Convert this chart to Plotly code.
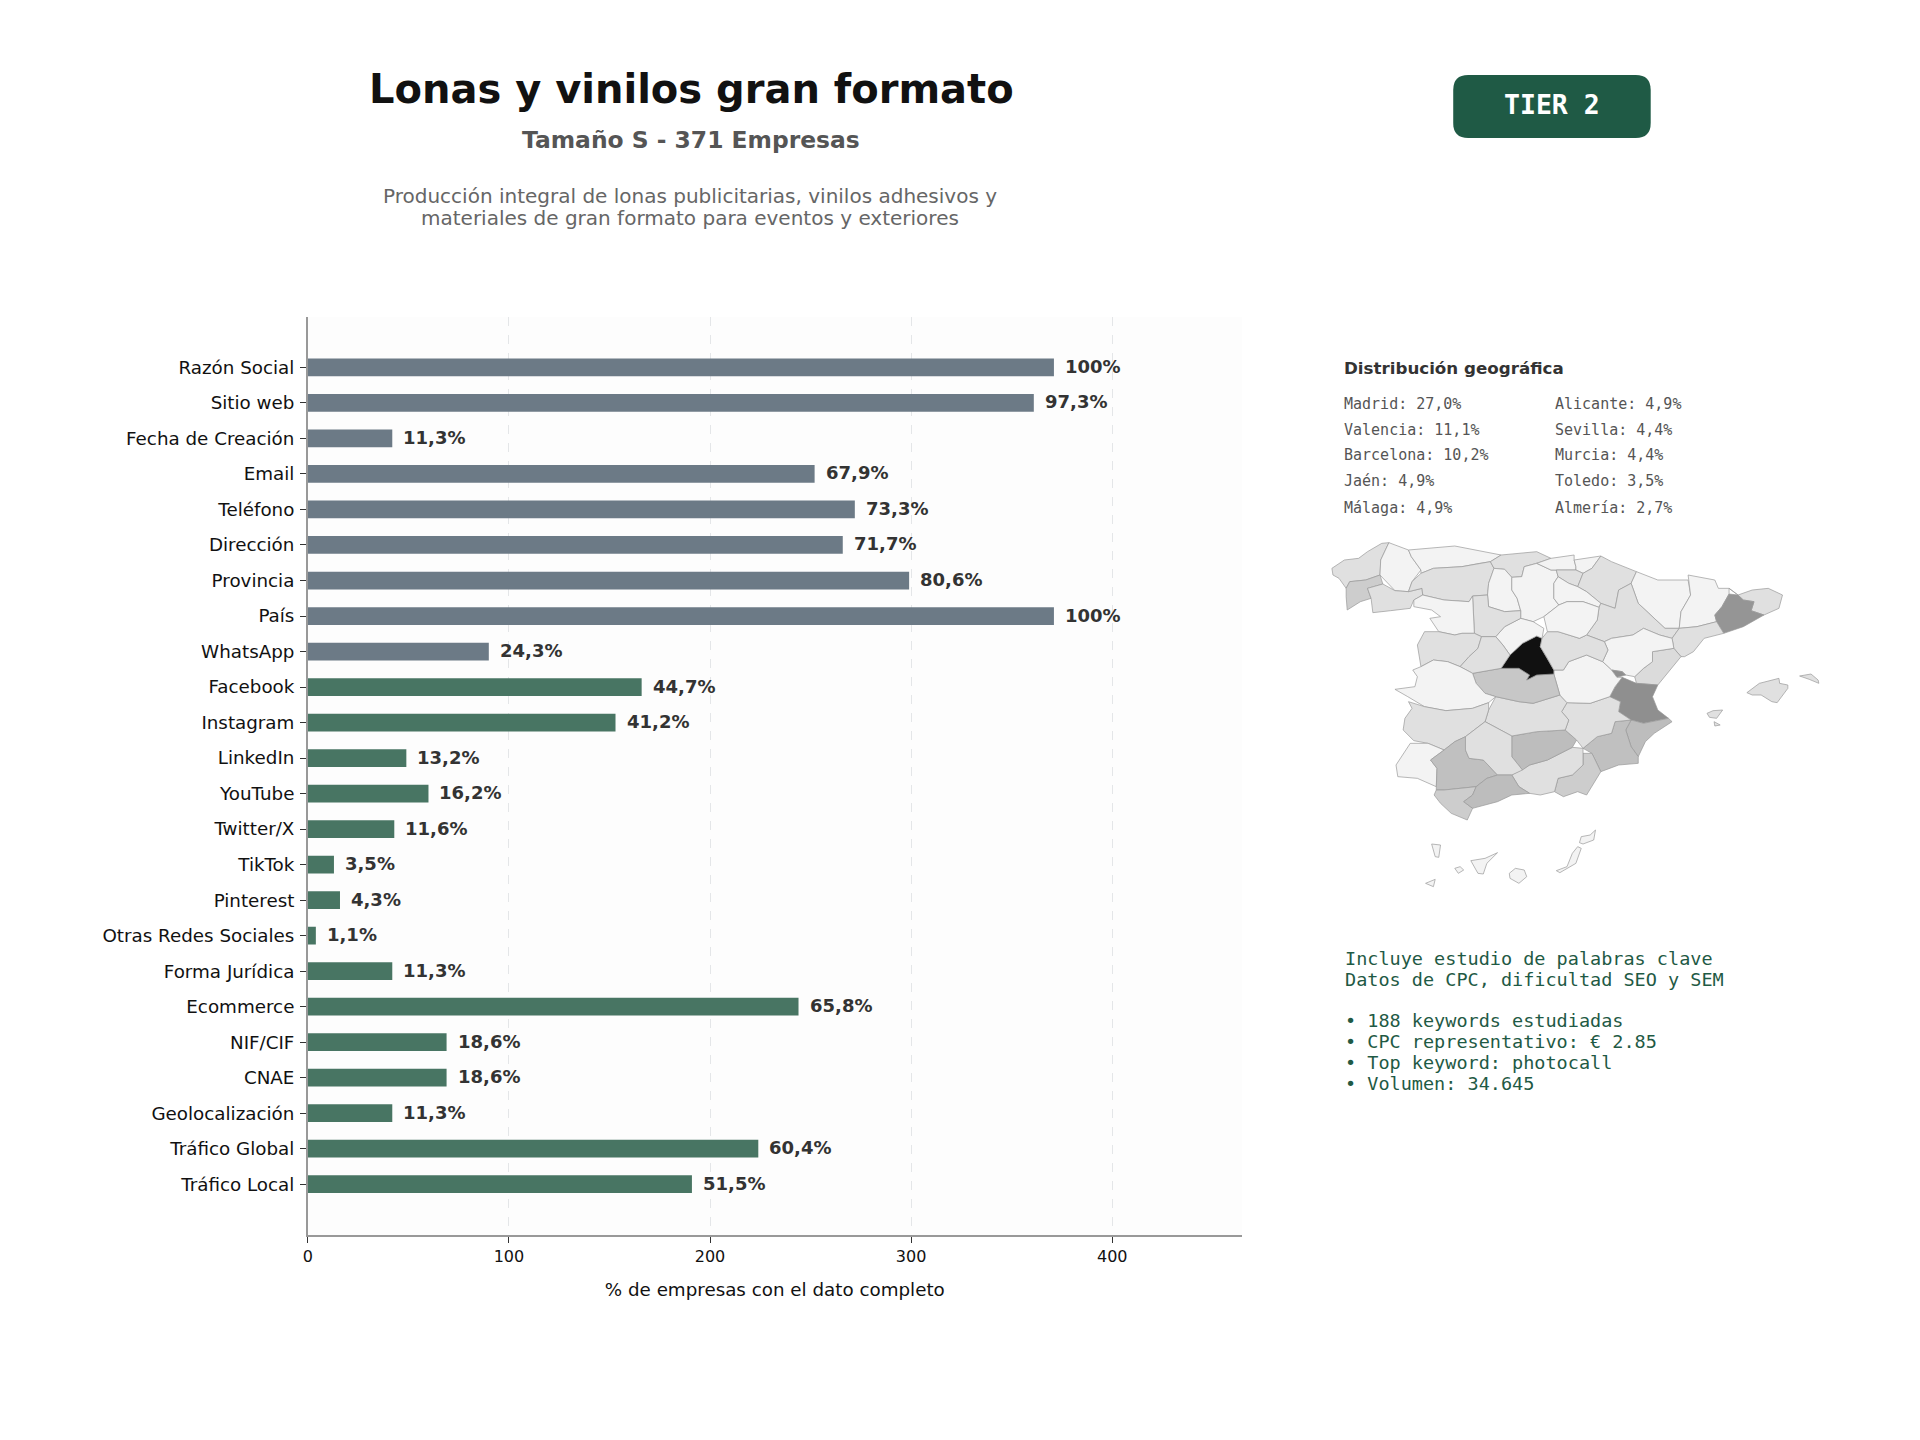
import numpy as np
import plotly.graph_objects as go

W, H = 1920, 1440

# ---------- bar chart data ----------
CATEGORIES = ["Razón Social", "Sitio web", "Fecha de Creación", "Email", "Teléfono", "Dirección",
              "Provincia", "País", "WhatsApp", "Facebook", "Instagram", "LinkedIn", "YouTube",
              "Twitter/X", "TikTok", "Pinterest", "Otras Redes Sociales", "Forma Jurídica",
              "Ecommerce", "NIF/CIF", "CNAE", "Geolocalización", "Tráfico Global", "Tráfico Local"]
COUNTS = [371, 361, 42, 252, 272, 266, 299, 371, 90, 166, 153, 49, 60, 43, 13, 16, 4, 42, 244, 69, 69, 42, 224, 191]
PERCENT_LABELS = ["100%", "97,3%", "11,3%", "67,9%", "73,3%", "71,7%", "80,6%", "100%", "24,3%", "44,7%",
                  "41,2%", "13,2%", "16,2%", "11,6%", "3,5%", "4,3%", "1,1%", "11,3%", "65,8%", "18,6%",
                  "18,6%", "11,3%", "60,4%", "51,5%"]
GROUP_SPLIT = 9  # first nine bars are contact fields (slate), the rest are digital fields (green)
X_TICKS = [0, 100, 200, 300, 400]

# ---------- text ----------
TITLE = "Lonas y vinilos gran formato"
SUBTITLE = "Tamaño S - 371 Empresas"
DESCRIPTION = ["Producción integral de lonas publicitarias, vinilos adhesivos y",
               "materiales de gran formato para eventos y exteriores"]
GEO_LEFT = ["Madrid: 27,0%", "Valencia: 11,1%", "Barcelona: 10,2%", "Jaén: 4,9%", "Málaga: 4,9%"]
GEO_RIGHT = ["Alicante: 4,9%", "Sevilla: 4,4%", "Murcia: 4,4%", "Toledo: 3,5%", "Almería: 2,7%"]
INFO_LINES = [("Incluye estudio de palabras clave", 958.5), ("Datos de CPC, dificultad SEO y SEM", 979.5),
              ("• 188 keywords estudiadas", 1020.5), ("• CPC representativo: € 2.85", 1041.5),
              ("• Top keyword: photocall", 1062.5), ("• Volumen: 34.645", 1083.5)]

# ---------- map: share of companies (estimated from the shade) and traced outlines ----------
SHARE = {"Madrid": 27.0, "Valencia": 11.1, "Ademuz": 11.1, "Barcelona": 10.2, "Jaén": 4.9, "Málaga": 4.9,
         "Alicante": 4.9, "Sevilla": 4.4, "Murcia": 4.4, "Toledo": 3.5, "Almería": 2.7, "Pontevedra": 2.7,
         "Cádiz": 2.7, "ACoruña": 1.3, "Ourense": 1.3, "León": 1.3, "Cantabria": 1.3, "Álava": 1.3,
         "Navarra": 1.3, "Zaragoza": 1.3, "Girona": 1.3, "Tarragona": 1.3, "Castellón": 1.6, "Granada": 1.3,
         "Albacete": 1.3, "CiudadReal": 1.3, "Guadalajara": 1.3, "Valladolid": 1.3, "Salamanca": 1.3,
         "Ávila": 1.3, "Badajoz": 1.3, "Córdoba": 1.3, "Mallorca": 1.3, "Menorca": 1.3, "Ibiza": 1.3,
         "Formentera": 1.3, "Lugo": 0.3, "Asturias": 0.3, "Palencia": 0.3, "Burgos": 0.3, "Vizcaya": 0.3,
         "Gipuzkoa": 0.3, "LaRioja": 0.3, "Huesca": 0.3, "Lleida": 0.3, "Teruel": 0.3, "Cuenca": 0.3,
         "Soria": 0.3, "Segovia": 0.3, "Zamora": 0.3, "Cáceres": 0.3, "Huelva": 0.3, "Lanzarote": 0.3,
         "Fuerteventura": 0.3, "GranCanaria": 0.3, "Tenerife": 0.3, "LaGomera": 0.3, "LaPalma": 0.3,
         "ElHierro": 0.3}
OUTLINES = {
 "ACoruña": [(85,145),(120,120),(160,115),(185,95),(225,70),(245,68),(222,120),(220,165),(180,180),(135,185),(125,205),(105,175),(88,165)],
 "Lugo": [(245,68),(300,90),(308,110),(335,150),(310,185),(300,215),(262,212),(220,165),(222,120)],
 "Pontevedra": [(135,185),(180,180),(220,165),(228,192),(185,205),(195,235),(165,245),(128,270),(125,230),(125,205)],
 "Ourense": [(185,205),(228,192),(262,212),(300,215),(338,205),(340,225),(315,240),(305,265),(250,272),(200,278),(195,235)],
 "Asturias": [(300,90),(430,78),(560,105),(530,125),(500,130),(450,140),(370,145),(335,160),(335,150),(308,110)],
 "León": [(335,160),(370,145),(450,140),(500,130),(530,125),(540,145),(525,190),(522,225),(480,228),(470,245),(400,240),(340,225),(338,205),(300,215),(310,185)],
 "Cantabria": [(560,105),(620,100),(660,95),(700,115),(660,130),(625,140),(618,170),(590,172),(570,148),(540,145),(530,125)],
 "Palencia": [(540,145),(570,148),(590,172),(590,210),(605,235),(615,272),(570,275),(525,260),(522,225),(525,190)],
 "Burgos": [(590,172),(618,170),(625,140),(660,130),(700,150),(715,150),(720,170),(708,190),(708,235),(722,255),(680,290),(650,305),(615,295),(615,272),(605,235),(590,210)],
 "Vizcaya": [(700,115),(765,105),(765,120),(770,140),(770,150),(715,150),(700,150),(660,130)],
 "Gipuzkoa": [(765,120),(840,108),(815,145),(790,160),(770,150),(770,140)],
 "Álava": [(715,150),(770,150),(790,160),(775,200),(750,190),(720,170)],
 "Navarra": [(840,108),(870,125),(940,155),(925,190),(890,210),(880,265),(840,250),(800,215),(775,200),(790,160),(815,145)],
 "LaRioja": [(708,190),(720,170),(750,190),(775,200),(800,215),(840,250),(835,262),(790,245),(745,245),(722,255),(708,235)],
 "Huesca": [(940,155),(1000,180),(1085,180),(1092,225),(1065,275),(1060,325),(1020,325),(985,290),(945,250),(925,190)],
 "Zaragoza": [(890,210),(925,190),(945,250),(985,290),(1020,325),(1060,325),(1040,355),(1005,345),(960,325),(930,345),(870,355),(850,365),(800,345),(830,300),(835,262),(840,250),(880,265)],
 "Lleida": [(1085,165),(1160,180),(1170,205),(1200,205),(1200,222),(1180,260),(1160,285),(1165,305),(1110,320),(1060,325),(1065,275),(1092,225)],
 "Girona": [(1200,205),(1225,225),(1265,210),(1310,205),(1350,225),(1340,265),(1298,285),(1262,272),(1270,245),(1240,240),(1225,225)],
 "Barcelona": [(1200,222),(1225,225),(1240,240),(1270,245),(1262,272),(1298,285),(1240,320),(1185,340),(1165,305),(1160,285),(1180,260)],
 "Tarragona": [(1060,325),(1110,320),(1165,305),(1185,340),(1130,355),(1100,395),(1075,410),(1065,410),(1045,385),(1040,355)],
 "Castellón": [(985,395),(1020,390),(1045,385),(1065,410),(1000,495),(940,490),(935,470),(960,445),(985,425)],
 "Teruel": [(850,365),(870,355),(930,345),(960,325),(1005,345),(1040,355),(1045,385),(1020,390),(985,395),(985,425),(960,445),(935,470),(910,465),(900,455),(870,450),(845,425),(860,390)],
 "Valencia": [(900,472),(940,490),(1000,495),(985,530),(1000,570),(1030,595),(960,610),(925,600),(890,575),(895,545),(865,530),(880,500)],
 "Ademuz": [(870,450),(900,455),(910,465),(885,472)],
 "Alicante": [(925,600),(960,610),(1030,595),(1040,605),(990,640),(965,665),(945,710),(925,680),(910,630)],
 "Murcia": [(880,605),(925,600),(910,630),(925,680),(945,710),(945,730),(890,735),(840,755),(815,700),(790,685),(830,650),(870,640)],
 "Almería": [(790,700),(815,700),(840,755),(800,825),(775,815),(735,830),(710,815),(720,775),(760,765),(790,735)],
 "Granada": [(590,765),(640,735),(690,720),(760,682),(790,685),(790,735),(760,765),(720,775),(710,815),(670,825),(640,820),(610,800)],
 "Jaén": [(590,648),(660,635),(740,630),(772,660),(760,682),(690,720),(640,735),(620,750),(590,710)],
 "Albacete": [(745,548),(810,550),(865,530),(895,545),(890,575),(925,600),(880,605),(870,640),(830,650),(790,685),(772,660),(740,630),(750,600),(730,575)],
 "CiudadReal": [(545,530),(610,545),(650,550),(725,525),(745,548),(730,575),(750,600),(740,630),(660,635),(590,648),(515,605),(525,570)],
 "Cuenca": [(708,462),(708,450),(735,450),(750,425),(800,405),(845,425),(870,450),(885,472),(900,472),(880,500),(865,530),(810,550),(745,548),(725,525)],
 "Toledo": [(480,460),(560,445),(610,445),(640,465),(632,480),(660,465),(708,462),(725,525),(650,550),(610,545),(545,530),(515,520),(490,490)],
 "Madrid": [(660,348),(675,355),(670,380),(690,415),(708,450),(708,462),(660,465),(632,480),(640,465),(610,445),(560,445),(585,405),(620,370)],
 "Guadalajara": [(675,355),(690,335),(720,335),(780,355),(800,345),(850,365),(860,390),(845,425),(800,405),(750,425),(735,450),(708,450),(690,415),(670,380)],
 "Soria": [(680,290),(722,255),(745,245),(790,245),(835,262),(830,300),(800,345),(780,355),(720,335),(690,335)],
 "Segovia": [(545,350),(570,320),(615,295),(650,305),(680,325),(675,355),(660,348),(620,370),(585,405),(565,375)],
 "Valladolid": [(480,228),(522,225),(525,260),(570,275),(615,272),(615,295),(570,320),(545,350),(505,350),(485,340),(483,290)],
 "Zamora": [(315,240),(340,225),(400,240),(470,245),(480,228),(483,290),(485,340),(450,340),(430,345),(385,335),(360,295),(390,290),(365,270),(315,260)],
 "Salamanca": [(345,335),(385,335),(430,345),(450,340),(485,340),(505,350),(495,385),(470,410),(445,440),(410,425),(370,420),(335,440),(325,375)],
 "Ávila": [(505,350),(545,350),(565,375),(585,405),(560,445),(480,460),(445,440),(470,410),(495,385)],
 "Cáceres": [(335,440),(370,420),(410,425),(445,440),(480,460),(490,490),(515,520),(545,530),(525,548),(480,565),(405,572),(345,560),(298,530),(262,508),(318,500),(325,470),(312,450)],
 "Badajoz": [(300,545),(345,560),(405,572),(480,565),(525,548),(525,570),(515,605),(460,650),(430,665),(400,690),(355,670),(315,662),(285,630),(290,595),(310,565)],
 "Huelva": [(305,670),(355,670),(400,690),(362,720),(380,745),(378,800),(325,775),(270,770),(265,735)],
 "Sevilla": [(430,665),(460,650),(460,690),(470,715),(510,720),(550,765),(520,775),(490,800),(400,810),(378,810),(380,745),(362,720),(400,690)],
 "Córdoba": [(460,650),(515,605),(590,648),(590,710),(620,750),(590,765),(550,765),(510,720),(470,715),(460,690)],
 "Cádiz": [(378,810),(400,810),(490,800),(480,825),(455,845),(480,865),(465,900),(420,880),(390,850),(372,825)],
 "Málaga": [(490,800),(520,775),(550,765),(590,765),(610,800),(640,820),(590,825),(550,845),(480,865),(455,845),(480,825)],
 "Mallorca": [(1250,518),(1285,490),(1340,475),(1342,490),(1365,495),(1365,505),(1335,548),(1320,545),(1290,525),(1265,525)],
 "Menorca": [(1398,468),(1430,462),(1450,480),(1452,490),(1425,478)],
 "Ibiza": [(1138,580),(1155,572),(1182,570),(1165,595),(1145,592)],
 "Formentera": [(1158,605),(1175,615),(1160,618)],
 "Lanzarote": [(780,968),(785,950),(810,945),(825,930),(820,960),(790,972)],
 "Fuerteventura": [(775,980),(785,985),(770,1030),(725,1058),(715,1052),(745,1040),(760,1000)],
 "GranCanaria": [(600,1045),(625,1050),(632,1070),(610,1090),(585,1075),(583,1060)],
 "Tenerife": [(475,1022),(515,1015),(550,998),(520,1030),(510,1062),(495,1060)],
 "LaGomera": [(430,1045),(445,1040),(455,1050),(440,1060)],
 "LaPalma": [(365,972),(390,975),(385,1012),(375,1010)],
 "ElHierro": [(348,1090),(375,1078),(370,1100)],
}


def px(x):
    return x / W


def py(y):
    return 1 - y / H


def shade(share):
    g = int(np.interp(share, [0.3, 1.3, 2.7, 4.9, 11.1, 27.0], [243, 224, 205, 189, 143, 17]))
    return f"rgb({g},{g},{g})"


AXIS_L, AXIS_R, AXIS_T, AXIS_B = 303.6, 1240, 317, 1235
SLATE, GREEN = "#6c7a86", "#487563"

fig = go.Figure()
fig.add_trace(go.Bar(y=CATEGORIES, x=COUNTS, orientation="h", width=0.5,
                     marker=dict(color=[SLATE if i < GROUP_SPLIT else GREEN for i in range(len(COUNTS))], line_width=0),
                     hoverinfo="skip", showlegend=False, xaxis="x", yaxis="y"))

for name, pts in OUTLINES.items():
    xs = [p[0] for p in pts] + [pts[0][0]]
    ys = [p[1] for p in pts] + [pts[0][1]]
    fig.add_trace(go.Scatter(x=xs, y=ys, mode="lines", fill="toself", fillcolor=shade(SHARE[name]),
                             line=dict(color="#999999", width=0.7), hoverinfo="skip", showlegend=False,
                             xaxis="x2", yaxis="y2"))

ann = []


def text(s, x, y, size, color, anchor="center", bold=False, family="DejaVu Sans"):
    ann.append(dict(text=f"<b>{s}</b>" if bold else s, xref="paper", yref="paper", x=px(x), y=py(y),
                    xanchor=anchor, yanchor="middle", showarrow=False,
                    font=dict(size=size, color=color, family=family)))


MONO = "DejaVu Sans Mono"
text(TITLE, 688.5, 89.5, 40, "#111111", bold=True)
text(SUBTITLE, 687.5, 140, 23.4, "#555555", bold=True)
text(DESCRIPTION[0], 687, 196, 20, "#666666")
text(DESCRIPTION[1], 687, 218, 20, "#666666")
text("TIER 2", 1551, 105, 26.5, "#ffffff", bold=True, family=MONO)
text("Distribución geográfica", 1340, 368, 16.7, "#333333", "left", bold=True)
for i, (a, b) in enumerate(zip(GEO_LEFT, GEO_RIGHT)):
    y = 403.5 + i * 26
    text(a, 1340.5, y, 15, "#555555", "left", family=MONO)
    text(b, 1552, y, 15, "#555555", "left", family=MONO)
for line, y in INFO_LINES:
    text(line, 1341.5, y, 18.5, "#1f5a45", "left", family=MONO)

for cat, v, lab in zip(CATEGORIES, COUNTS, PERCENT_LABELS):
    ann.append(dict(text=f"<b>{lab}</b>", x=v, y=cat, xref="x", yref="y", xanchor="left", yanchor="middle",
                    xshift=9, yshift=1, showarrow=False, font=dict(size=18, color="#333333", family="DejaVu Sans")))

# rounded badge
bx0, bx1, by0, by1, r = 1452, 1650, 75, 138, 15
path = (f"M {px(bx0+r)} {py(by0)} L {px(bx1-r)} {py(by0)} Q {px(bx1)} {py(by0)} {px(bx1)} {py(by0+r)} "
        f"L {px(bx1)} {py(by1-r)} Q {px(bx1)} {py(by1)} {px(bx1-r)} {py(by1)} "
        f"L {px(bx0+r)} {py(by1)} Q {px(bx0)} {py(by1)} {px(bx0)} {py(by1-r)} "
        f"L {px(bx0)} {py(by0+r)} Q {px(bx0)} {py(by0)} {px(bx0+r)} {py(by0)} Z")

n = len(CATEGORIES)
fig.update_layout(
    width=W, height=H, margin=dict(l=0, r=0, t=0, b=0), paper_bgcolor="white", plot_bgcolor="white",
    font=dict(family="DejaVu Sans", color="#111111"), bargap=0.5, annotations=ann,
    shapes=[dict(type="path", path=path, xref="paper", yref="paper", fillcolor="#1f5a45", line_width=0),
            dict(type="rect", xref="x domain", yref="y domain", x0=0, x1=1, y0=0, y1=1,
                 fillcolor="#fdfdfd", line_width=0, layer="below")],
    xaxis=dict(domain=[px(AXIS_L), px(AXIS_R)], range=[0, 464.4], tickmode="array", tickvals=X_TICKS,
               showgrid=True, gridcolor="#e4e6e8", griddash="dash", gridwidth=1, zeroline=False,
               showline=True, linecolor="#999999", linewidth=1.5, ticks="outside", ticklen=6, tickwidth=1,
               tickcolor="#333333", tickfont=dict(size=16, family="DejaVu Sans", color="#111111"),
               title=dict(text="% de empresas con el dato completo", standoff=18,
                          font=dict(size=18.3, family="DejaVu Sans", color="#111111")),
               anchor="y"),
    yaxis=dict(domain=[py(AXIS_B), py(AXIS_T)], type="category", categoryorder="array", categoryarray=CATEGORIES,
               range=[n - 1 + 1.43, -1.42], showgrid=False, zeroline=False, showline=True, linecolor="#999999",
               linewidth=1.5, ticks="outside", ticklen=6, tickwidth=1, tickcolor="#333333",
               ticklabelstandoff=2, tickfont=dict(size=18.3, family="DejaVu Sans", color="#111111"), anchor="x"),
    xaxis2=dict(domain=[px(1300), px(1860)], range=[0, 1568], visible=False, fixedrange=True, anchor="y2"),
    yaxis2=dict(domain=[py(910), py(520)], range=[1170, 0], visible=False, fixedrange=True, anchor="x2"),
)
fig.write_html("out.html", config={"displayModeBar": False}, post_script="document.body.style.margin='0';")
